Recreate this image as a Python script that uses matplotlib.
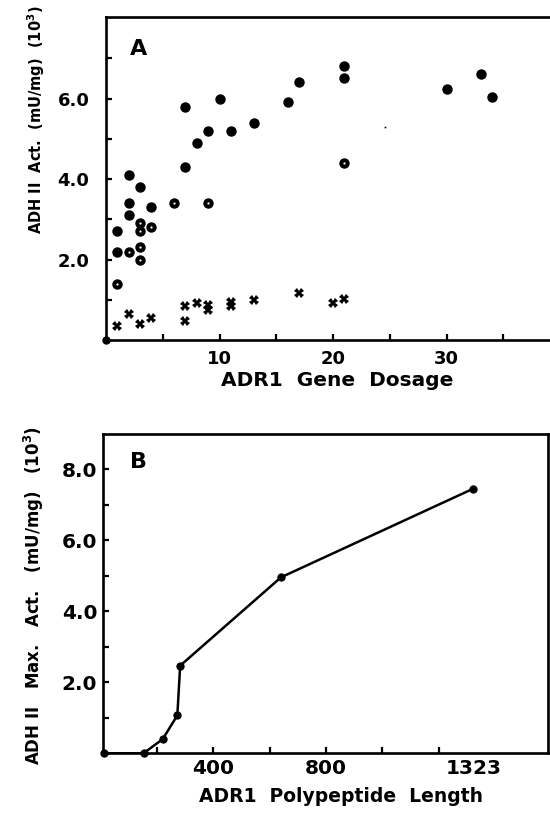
import matplotlib
matplotlib.use("Agg")
import matplotlib.pyplot as plt

plt.rcParams['font.family'] = ['DejaVu Sans']
plt.rcParams['font.weight'] = 'bold'
plt.rcParams['mathtext.fontset'] = 'dejavusans'
plt.rcParams['mathtext.default'] = 'bf'

# Panel A data
solid_x = [1, 1, 2, 2, 2, 3, 4, 7, 7, 8, 9, 10, 11, 13, 16, 17, 21, 21, 30, 33, 34]
solid_y = [2.7, 2.2, 4.1, 3.4, 3.1, 3.8, 3.3, 5.8, 4.3, 4.9, 5.2, 6.0, 5.2, 5.4, 5.92, 6.41, 6.81, 6.52, 6.23, 6.62, 6.03]
dotted_x = [1, 2, 3, 3, 3, 3, 4, 6, 9, 21]
dotted_y = [1.4, 2.2, 2.9, 2.7, 2.3, 2.0, 2.8, 3.4, 3.4, 4.41]
cross_x = [1, 2, 3, 4, 7, 7, 8, 9, 9, 11, 11, 13, 17, 20, 21]
cross_y = [0.36, 0.65, 0.41, 0.54, 0.47, 0.85, 0.93, 0.87, 0.75, 0.95, 0.85, 1.0, 1.16, 0.91, 1.01]
speck_x = [24.6]
speck_y = [5.3]
a_xticks = [5, 10, 15, 20, 25, 30, 35]
a_xticklabels = ['', '10', '', '20', '', '30', '']
a_yticks = [1, 2, 3, 4, 5, 6, 7]
a_yticklabels = ['', '2.0', '', '4.0', '', '6.0', '']

# Panel B data
b_x = [10, 152, 220, 272, 282, 640, 1323]
b_y = [0.0, 0.0, 0.40, 1.07, 2.47, 4.96, 7.46]
b_xticks = [200, 400, 600, 800, 1000, 1200]
b_xticklabels = ['', '400', '', '800', '', '']
b_yticks = [1, 2, 3, 4, 5, 6, 7, 8]
b_yticklabels = ['', '2.0', '', '4.0', '', '6.0', '', '8.0']

W, H = 550, 816
fig = plt.figure(figsize=(W / 100, H / 100), dpi=100)

def px_axes(l, t, r, b):
    return fig.add_axes([l / W, 1 - b / H, (r - l) / W, (b - t) / H])

def style(ax, size):
    for s in ax.spines.values():
        s.set_linewidth(1.9)
    ax.tick_params(direction='in', length=4, width=1.6, labelsize=size)
    for lab in ax.get_xticklabels() + ax.get_yticklabels():
        lab.set_fontweight('bold')

# ---------- Panel A ----------
axA = px_axes(106, 17, 551, 340)
axA.set_xlim(0, 39.2)
axA.set_ylim(0, 8.03)
axA.plot(solid_x, solid_y, 'o', color='black', ms=7.5, mew=0, zorder=3)
axA.plot(dotted_x, dotted_y, 'o', color='black', ms=7.5, mew=0, zorder=3)
axA.plot(dotted_x, dotted_y, 'o', color='white', ms=1.6, mew=0, zorder=4)
axA.plot(cross_x, cross_y, 'X', color='black', ms=7, mew=0, zorder=3)
axA.plot(speck_x, speck_y, 's', color='black', ms=1.2, mew=0, zorder=3)
axA.plot([0], [0], 'o', color='black', ms=6, mew=0, clip_on=False, zorder=5)
axA.set_xticks(a_xticks)
axA.set_xticklabels(a_xticklabels)
axA.set_yticks(a_yticks)
axA.set_yticklabels(a_yticklabels)
style(axA, 13)
axA.tick_params(axis='y', pad=12)
axA.tick_params(axis='x', pad=7)
fig.text(139 / W, 1 - 49 / H, 'A', fontsize=16, fontweight='bold', ha='center', va='center')
fig.text(337 / W, 1 - 386 / H, 'ADR1  Gene  Dosage', fontsize=14.5, fontweight='bold',
         ha='center', va='baseline')
fig.text(36 / W, 1 - 120 / H, 'ADH II  Act.  (mU/mg)  (10$^{3}$)', fontsize=10.5, fontweight='bold',
         ha='center', va='center', rotation=90)

# ---------- Panel B ----------
axB = px_axes(102.7, 434, 548, 753.3)
axB.set_xlim(7, 1588)
axB.set_ylim(0, 9.0)
axB.plot(b_x, b_y, '-', color='black', lw=1.8, zorder=3)
axB.plot(b_x, b_y, 'o', color='black', ms=6, mew=0, zorder=4, clip_on=False)
axB.set_xticks(b_xticks + [1323])
axB.set_xticklabels(b_xticklabels + ['1323'])
axB.set_yticks(b_yticks)
axB.set_yticklabels(b_yticklabels)
style(axB, 14.5)
axB.xaxis.get_major_ticks()[-1].tick1line.set_visible(False)
axB.tick_params(axis='y', pad=4)
axB.tick_params(axis='x', pad=4)
fig.text(138 / W, 1 - 462 / H, 'B', fontsize=16, fontweight='bold', ha='center', va='center')
fig.text(341 / W, 1 - 802 / H, 'ADR1  Polypeptide  Length', fontsize=13.5, fontweight='bold',
         ha='center', va='baseline')
fig.text(34 / W, 1 - 596 / H, 'ADH II   Max.   Act.   (mU/mg)   (10$^{3}$)', fontsize=12,
         fontweight='bold', ha='center', va='center', rotation=90)

fig.savefig('out.png', dpi=100)
